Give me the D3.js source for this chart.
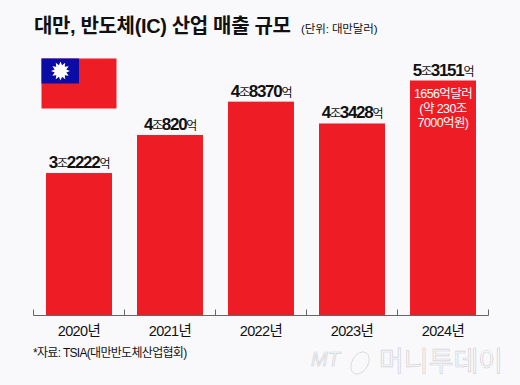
<!DOCTYPE html>
<html>
<head>
<meta charset="utf-8">
<script src="https://cdn.jsdelivr.net/npm/d3@7/dist/d3.min.js"></script>
<style>
  html, body { margin: 0; padding: 0; background: #f9f9fc; }
  svg { display: block; }
  text { font-family: "Liberation Sans", "Noto Sans CJK KR", sans-serif; fill: #111; }
</style>
</head>
<body>
<svg id="chart"></svg>
<script>
const years = ['2020년', '2021년', '2022년', '2023년', '2024년'];
const revenue = [32222, 40820, 48370, 43428, 53151]; // 억원
const jo = ['3', '4', '4', '4', '5'];
const eok = ['2222', '820', '8370', '3428', '3151'];
const noteLines = ['1656억달러', '(약 230조', '7000억원)'];

const width = 520;
const height = 385;
const red = '#ee1c25';

const svg = d3.select('#chart').attr('width', width).attr('height', height);

const x = d3.scaleBand().domain(years).range([33.5, 488.5]).paddingInner(0.275).paddingOuter(0.1375);
const y = d3.scaleLinear().domain([0, 53151]).range([315.5, 80.5]);
const gap = x.step() * x.paddingInner() / 2;

// title
svg.append('text')
  .attr('x', 34).attr('y', 33)
  .attr('font-size', 20).attr('font-weight', 700)
  .attr('letter-spacing', -0.35)
  .text('대만, 반도체(IC) 산업 매출 규모');
svg.append('text')
  .attr('x', 301).attr('y', 33)
  .attr('font-size', 11.5).attr('letter-spacing', -0.1)
  .text('(단위: 대만달러)');

// bars
svg.selectAll('rect.bar')
  .data(years)
  .join('rect')
  .attr('class', 'bar')
  .attr('x', d => x(d))
  .attr('width', x.bandwidth())
  .attr('y', (d, i) => y(revenue[i]))
  .attr('height', (d, i) => y(0) - y(revenue[i]))
  .attr('fill', red);

// axis, ticks sit between the bars
const edges = years.map(d => x(d) - gap);
edges.push(x.range()[1]);
const axis = svg.append('g').attr('class', 'axis');
axis.append('path')
  .attr('d', `M${x.range()[0]},${y(0)}H${x.range()[1]}`)
  .attr('stroke', '#666').attr('fill', 'none');
axis.selectAll('line')
  .data(edges)
  .join('line')
  .attr('x1', d => d).attr('x2', d => d)
  .attr('y1', y(0)).attr('y2', y(0) - 6)
  .attr('stroke', '#666');

svg.selectAll('text.year')
  .data(years)
  .join('text')
  .attr('class', 'year')
  .attr('x', d => x(d) + x.bandwidth() / 2)
  .attr('y', 336)
  .attr('text-anchor', 'middle')
  .attr('font-size', 14.5)
  .attr('letter-spacing', -0.6)
  .text(d => d);

// value labels: bold numbers, light 조 and 억
const labels = svg.selectAll('text.value')
  .data(years)
  .join('text')
  .attr('class', 'value')
  .attr('x', d => x(d) + x.bandwidth() / 2)
  .attr('y', (d, i) => y(revenue[i]) - 5)
  .attr('text-anchor', 'middle')
  .attr('letter-spacing', -1.3);
labels.append('tspan').attr('font-size', 17).attr('font-weight', 700).text((d, i) => jo[i]);
labels.append('tspan').attr('font-size', 12).text('조');
labels.append('tspan').attr('font-size', 17).attr('font-weight', 700).text((d, i) => eok[i]);
labels.append('tspan').attr('font-size', 12).text('억');

// note inside the last bar
svg.selectAll('text.note')
  .data(noteLines)
  .join('text')
  .attr('class', 'note')
  .attr('x', x('2024년') + x.bandwidth() / 2)
  .attr('y', (d, i) => 98 + i * 14.5)
  .attr('text-anchor', 'middle')
  .attr('font-size', 12.5)
  .attr('letter-spacing', -0.6)
  .style('fill', '#fff')
  .text(d => d);

// source
svg.append('text')
  .attr('x', 33).attr('y', 357)
  .attr('font-size', 12)
  .attr('letter-spacing', -0.7)
  .text('*자료: TSIA(대만반도체산업협회)');

// flag
const flag = svg.append('g');
flag.append('rect').attr('x', 41.5).attr('y', 58.5).attr('width', 75).attr('height', 50).attr('fill', red);
flag.append('rect').attr('x', 41.5).attr('y', 58.5).attr('width', 37.5).attr('height', 25).attr('fill', '#0b0ba5');
const rays = d3.range(24).map(i => [i * Math.PI / 12, i % 2 ? 6 : 9.5]);
flag.append('path')
  .attr('transform', 'translate(60.5,71)')
  .attr('d', d3.lineRadial().curve(d3.curveLinearClosed)(rays))
  .attr('fill', '#fff');

// watermark
const mark = svg.append('g').attr('fill', 'none').attr('stroke', '#d2d2d6').attr('stroke-width', 0.7);
mark.append('text')
  .attr('x', 311).attr('y', 366)
  .attr('font-size', 20).attr('font-style', 'italic')
  .style('fill', 'none')
  .text('MT');
mark.append('ellipse')
  .attr('cx', 360).attr('cy', 363).attr('rx', 8).attr('ry', 12)
  .attr('transform', 'rotate(30 360 363)');
mark.append('text')
  .attr('x', 379).attr('y', 371)
  .attr('font-size', 27)
  .style('fill', 'none')
  .text('머니투데이');
</script>
</body>
</html>
